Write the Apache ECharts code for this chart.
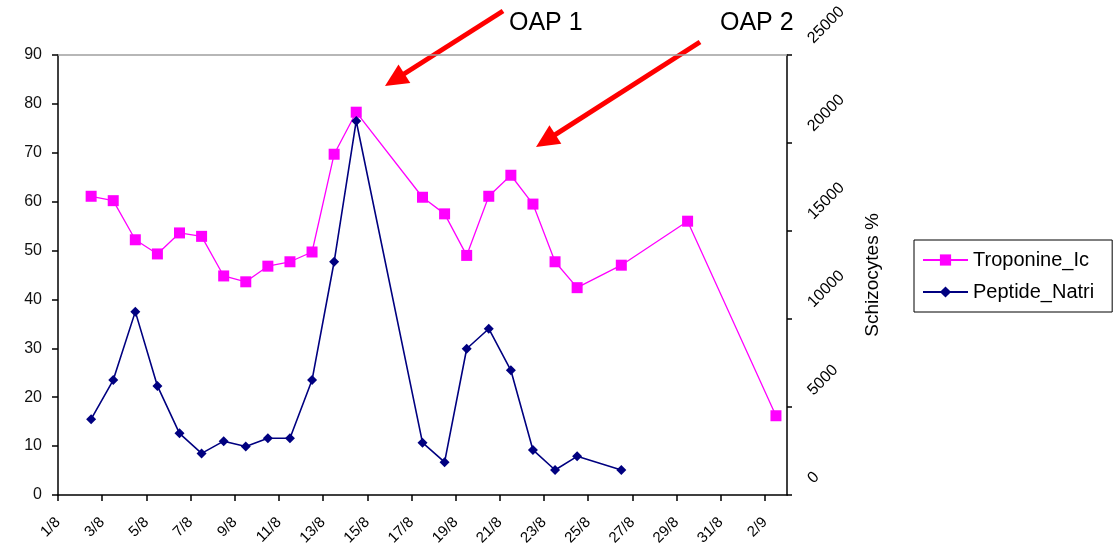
<!DOCTYPE html>
<html>
<head>
<meta charset="utf-8">
<script src="https://cdn.jsdelivr.net/npm/echarts@6/dist/echarts.min.js"></script>
<style>
html,body{margin:0;padding:0;background:#fff;}
#chart{width:1115px;height:548px;}
</style>
</head>
<body>
<div id="chart"></div>
<script>
// Day labels for the x axis (index 0 = 1/8)
const days = ['1/8','2/8','3/8','4/8','5/8','6/8','7/8','8/8','9/8','10/8','11/8','12/8','13/8','14/8','15/8','16/8','17/8','18/8','19/8','20/8','21/8','22/8','23/8','24/8','25/8','26/8','27/8','28/8','29/8','30/8','31/8','1/9','2/9','3/9'];

const tropDates = ['2/8','3/8','4/8','5/8','6/8','7/8','8/8','9/8','10/8','11/8','12/8','13/8','14/8','17/8','18/8','19/8','20/8','21/8','22/8','23/8','24/8','26/8','29/8','2/9'];
const tropValues = [61.1,60.2,52.2,49.3,53.6,52.9,44.8,43.6,46.8,47.7,49.7,69.7,78.3,60.9,57.5,49.0,61.1,65.4,59.5,47.7,42.4,47.0,56.0,16.2];

const peptDates = ['2/8','3/8','4/8','5/8','6/8','7/8','8/8','9/8','10/8','11/8','12/8','13/8','14/8','17/8','18/8','19/8','20/8','21/8','22/8','23/8','24/8','26/8'];
const peptValues = [15.5,23.5,37.5,22.3,12.6,8.5,11.0,9.9,11.6,11.6,23.5,47.7,76.5,10.7,6.7,29.9,34.0,25.5,9.2,5.1,7.9,5.1];

const leftTicks = {min:0, max:90, interval:10};
const rightTicks = {min:0, max:25000, interval:5000};

// points sit in the middle of each day's band
function toPoints(dates, vals){
  return dates.map((d,i)=>[days.indexOf(d)+0.5, vals[i]]);
}

const FONT = 'Liberation Sans, Arial, sans-serif';

function arrow(x1,y1,x2,y2){
  const dx=x2-x1, dy=y2-y1, len=Math.sqrt(dx*dx+dy*dy);
  const ux=dx/len, uy=dy/len, nx=-uy, ny=ux;
  const hl=23, hw=11;
  const bx=x2-ux*hl, by=y2-uy*hl;
  return [
    {type:'line', shape:{x1:x1,y1:y1,x2:bx+ux*2,y2:by+uy*2}, style:{stroke:'#ff0000', lineWidth:5}},
    {type:'polygon', shape:{points:[[x2,y2],[bx+nx*hw,by+ny*hw],[bx-nx*hw,by-ny*hw]]}, style:{fill:'#ff0000'}}
  ];
}

const chart = echarts.init(document.getElementById('chart'), null, {renderer:'canvas'});
chart.setOption({
  animation:false,
  backgroundColor:'#ffffff',
  textStyle:{fontFamily:FONT},
  grid:{left:58, right:328, top:55, bottom:52},
  legend:{
    orient:'vertical', left:914, top:240,
    padding:[10,18,10,8], itemGap:12, itemWidth:45, itemHeight:14,
    borderColor:'#000', borderWidth:1,
    textStyle:{fontSize:20, color:'#000', fontFamily:FONT},
    data:['Troponine_Ic','Peptide_Natri']
  },
  xAxis:[{
    type:'value', min:0, max:33, interval:2,
    axisLine:{show:true, onZero:false, lineStyle:{color:'#000', width:1.5}},
    axisTick:{show:true, length:6, lineStyle:{color:'#000', width:1.5}},
    splitLine:{show:false},
    axisLabel:{rotate:45, margin:25, fontSize:15, color:'#000', fontFamily:FONT,
      showMaxLabel:false,
      formatter:v=> (v%2===0 && days[v]) ? days[v] : ''}
  },{
    type:'value', min:0, max:33, position:'top',
    axisLine:{show:true, onZero:false, lineStyle:{color:'#a0a0a0', width:1.5}},
    axisTick:{show:false}, axisLabel:{show:false}, splitLine:{show:false}
  }],
  yAxis:[{
    type:'value', min:leftTicks.min, max:leftTicks.max, interval:leftTicks.interval,
    axisLine:{show:true, onZero:false, lineStyle:{color:'#000', width:1.5}},
    axisTick:{show:true, length:6, lineStyle:{color:'#000', width:1.5}},
    splitLine:{show:false},
    axisLabel:{margin:16, fontSize:16, color:'#111', fontFamily:FONT}
  },{
    type:'value', position:'right', min:rightTicks.min, max:rightTicks.max, interval:rightTicks.interval,
    name:'Schizocytes %', nameLocation:'middle', nameGap:76, nameRotate:90,
    nameTextStyle:{fontSize:19, color:'#000', fontFamily:FONT},
    axisLine:{show:true, onZero:false, lineStyle:{color:'#000', width:1.5}},
    axisTick:{show:true, length:5, lineStyle:{color:'#000', width:1.5}},
    splitLine:{show:false},
    axisLabel:{rotate:45, margin:29, fontSize:16, color:'#000', fontFamily:FONT,
      verticalAlign:'bottom', padding:[0,0,6,6],
      formatter:v=>String(v)}
  }],
  series:[{
    name:'Troponine_Ic', type:'line', xAxisIndex:0, yAxisIndex:0,
    data:toPoints(tropDates, tropValues),
    symbol:'rect', symbolSize:11,
    lineStyle:{color:'#ff00ff', width:1.3},
    itemStyle:{color:'#ff00ff'}
  },{
    name:'Peptide_Natri', type:'line', xAxisIndex:0, yAxisIndex:0,
    data:toPoints(peptDates, peptValues),
    symbol:'diamond', symbolSize:10,
    lineStyle:{color:'#000080', width:1.6},
    itemStyle:{color:'#000080'}
  }],
  graphic:[
    ...arrow(503,11,385,86),
    ...arrow(700,42,536,147),
    {type:'text', left:509, top:11, style:{text:'OAP 1', fontSize:25, fill:'#000', fontFamily:FONT}},
    {type:'text', left:720, top:11, style:{text:'OAP 2', fontSize:25, fill:'#000', fontFamily:FONT}}
  ]
});
</script>
</body>
</html>
